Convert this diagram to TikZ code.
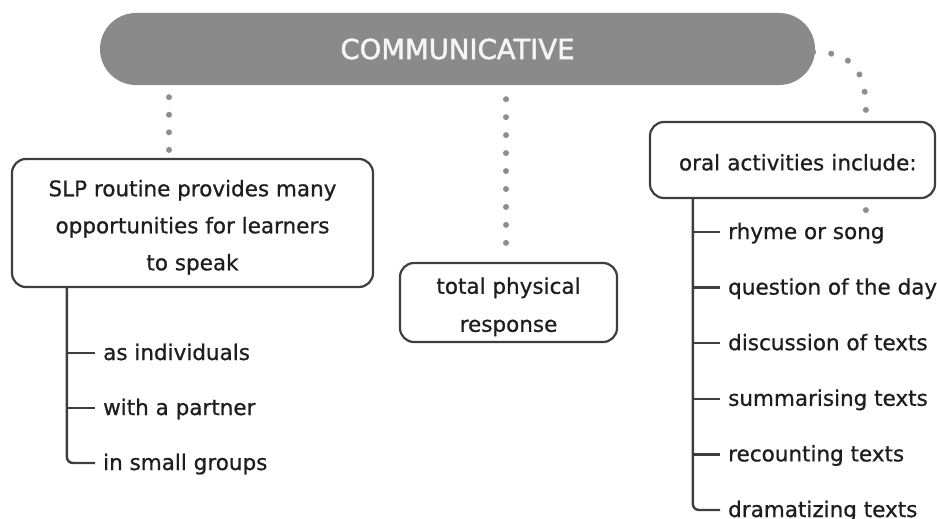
\documentclass[tikz,border=0pt]{standalone}
\usepackage{fontspec}
\setmainfont{DejaVu Sans}[BoldFont={DejaVu Sans}, BoldFeatures={FakeBold=0.8}]
\newfontfamily\titlefont{DejaVu Sans}[BoldFont={DejaVu Sans}, BoldFeatures={FakeBold=1.8}]
\usetikzlibrary{calc,decorations.markings}
\definecolor{barc}{HTML}{8A8A8A}
\definecolor{dotc}{HTML}{8E8E8E}
\definecolor{linec}{HTML}{3E3E3E}
\definecolor{txtc}{HTML}{1E1E1E}
\begin{document}
\begin{tikzpicture}[x=1pt,y=-1pt,
  every node/.style={text=txtc, font=\bfseries\fontsize{21.5}{37}\selectfont},
  box/.style={draw=linec, line width=2.2pt, rounded corners=14pt, align=center, inner sep=0pt},
  item/.style={anchor=base west, inner sep=0pt},
  tree/.style={draw=linec, line width=2.4pt},
  dotline/.style={postaction={decorate}, decoration={markings,
      mark=between positions 0 and 1 step #1 with {\fill[dotc] (0,0) circle (3pt);}}},
]
\useasboundingbox (0,0) rectangle (937,519);
\clip (0,0) rectangle (937,519);

% title bar
\node[fill=barc, rounded corners=36pt, minimum width=715pt, minimum height=72pt,
      inner sep=0pt, text=white!96!black, font=\titlefont\bfseries\fontsize{27.5}{30}\selectfont] (bar) at (457.5,49) {COMMUNICATIVE};

% boxes
\node[box, minimum width=361pt, minimum height=128pt] (slp) at (192.5,223)
  {\rule{0pt}{25pt}SLP routine provides many\\opportunities for learners\\to speak};
\node[box, minimum width=217pt, minimum height=79pt, font=\bfseries\fontsize{21.5}{38}\selectfont] (tpr) at (508.5,302.5)
  {\rule{0pt}{25pt}total physical\\response};
\node[box, minimum width=285pt, minimum height=76pt, text width=285pt, align=left] (oral) at (792.5,160)
  {\hspace*{29pt}\rule{0pt}{21pt}oral activities include:};

% left items
\node[item] (i1) at (103,360) {as individuals};
\node[item] (i2) at (103,415) {with a partner};
\node[item] (i3) at (103,470) {in small groups};

% right items
\node[item] (r1) at (728,239) {rhyme or song};
\node[item] (r2) at (728,294.6) {question of the day};
\node[item] (r3) at (728,350.2) {discussion of texts};
\node[item] (r4) at (728,405.8) {summarising texts};
\node[item] (r5) at (728,461.4) {recounting texts};
\node[item] (r6) at (728,517) {dramatizing texts};

% left tree
\coordinate (st) at ($(slp.south west)+(56,0)$);
\draw[tree, rounded corners=6pt] (st) |- ($(i3.base west)+(-8,-7)$);
\draw[tree] (st |- {$(i1.base west)+(0,-7)$}) -- ($(i1.base west)+(-8,-7)$);
\draw[tree] (st |- {$(i2.base west)+(0,-7)$}) -- ($(i2.base west)+(-8,-7)$);

% right tree
\coordinate (rt) at ($(oral.south west)+(44,0)$);
\draw[tree, rounded corners=6pt] (rt) |- ($(r6.base west)+(-8,-7)$);
\foreach \n in {r1,r2,r3,r4,r5}{
  \draw[tree] (rt |- {$(\n.base west)+(0,-7)$}) -- ($(\n.base west)+(-8,-7)$);
}

% dotted connectors
\coordinate (l0) at ($(bar.south -| slp.north)+(-23.5,12)$);
\coordinate (l1) at ($(slp.north)+(-23.5,-8)$);
\path[dotline=0.33332] (l0) -- (l1);

\coordinate (m0) at ($(bar.south -| tpr.north)+(-2.5,14)$);
\coordinate (m1) at ($(tpr.north)+(-2.5,-19)$);
\path[dotline=0.12499] (m0) -- (m1);

\coordinate (q0) at ($(bar.east)+(-2,3)$);
\coordinate (q1) at ($(oral.north west)+(217,-11)$);
\path[dotline=0.19999] (q0) .. controls +(37,0) and +(0,-41) .. (q1);

\coordinate (q2) at ($(oral.south west)+(217,11)$);
\fill[dotc] (q2) circle (3pt);
\end{tikzpicture}
\end{document}
